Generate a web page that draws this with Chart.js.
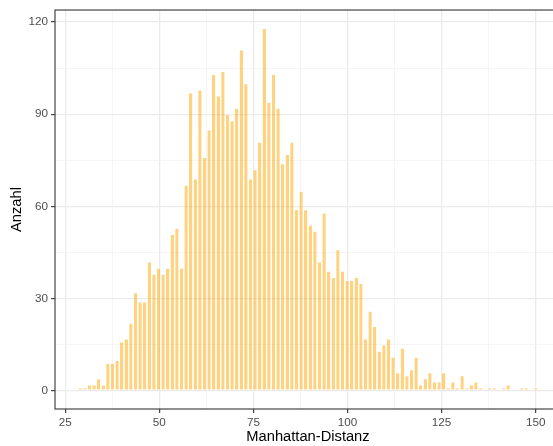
<!DOCTYPE html>
<html>
<head>
<meta charset="utf-8">
<script src="https://cdn.jsdelivr.net/npm/chart.js@4"></script>
<style>
  html, body { margin: 0; padding: 0; background: #fff; overflow: hidden; }
  #wrap { position: relative; width: 561px; height: 446px; }
</style>
</head>
<body>
<div id="wrap"><canvas id="histChart"></canvas></div>
<script>
// Bin centres of the histogram (100 bins from 29 to 150)
const binCentres = [
    29.00, 30.22, 31.44, 32.67, 33.89, 35.11, 36.33, 37.56, 38.78, 40.00,
    41.22, 42.44, 43.67, 44.89, 46.11, 47.33, 48.56, 49.78, 51.00, 52.22,
    53.44, 54.67, 55.89, 57.11, 58.33, 59.56, 60.78, 62.00, 63.22, 64.44,
    65.67, 66.89, 68.11, 69.33, 70.56, 71.78, 73.00, 74.22, 75.44, 76.67,
    77.89, 79.11, 80.33, 81.56, 82.78, 84.00, 85.22, 86.44, 87.67, 88.89,
    90.11, 91.33, 92.56, 93.78, 95.00, 96.22, 97.44, 98.67, 99.89, 101.11,
    102.33, 103.56, 104.78, 106.00, 107.22, 108.44, 109.67, 110.89, 112.11, 113.33,
    114.56, 115.78, 117.00, 118.22, 119.44, 120.67, 121.89, 123.11, 124.33, 125.56,
    126.78, 128.00, 129.22, 130.44, 131.67, 132.89, 134.11, 135.33, 136.56, 137.78,
    139.00, 140.22, 141.44, 142.67, 143.89, 145.11, 146.33, 147.56, 148.78, 150.00
];

// Anzahl pro Bin
const counts = [
    1, 1, 2, 2, 4, 2, 9, 9, 10, 16,
    17, 22, 32, 29, 29, 42, 38, 40, 38, 40,
    51, 53, 40, 67, 97, 69, 98, 76, 85, 103,
    96, 104, 90, 88, 92, 111, 100, 69, 72, 81,
    118, 94, 103, 92, 74, 77, 81, 59, 65, 59,
    54, 52, 42, 58, 39, 37, 46, 39, 36, 36,
    37, 35, 17, 26, 21, 13, 15, 17, 11, 6,
    14, 5, 7, 11, 2, 4, 6, 3, 3, 6,
    1, 3, 1, 5, 1, 2, 3, 1, 0, 1,
    1, 0, 1, 2, 0, 0, 1, 1, 0, 1
];

const xMajor = [25, 50, 75, 100, 125, 150];
const xMinor = [37.5, 62.5, 87.5, 112.5, 137.5];
const yMajor = [0, 30, 60, 90, 120];
const yMinor = [15, 45, 75, 105];

const tickFont = { family: "'Liberation Sans', Arial, sans-serif", size: 11.7 };
const titleFont = { family: "'Liberation Sans', Arial, sans-serif", size: 14.7 };

function gridFor(major) {
    const isMajor = ctx => ctx.tick && major.includes(ctx.tick.value);
    return {
        offset: false,
        color: ctx => isMajor(ctx) ? '#EBEBEB' : '#F1F1F1',
        lineWidth: ctx => isMajor(ctx) ? 1.3 : 0.7,
        tickColor: ctx => isMajor(ctx) ? '#333333' : 'rgba(0,0,0,0)',
        tickLength: 4,
        tickWidth: 1.1,
        drawTicks: true
    };
}

// rahmen um das panel
const panelBorder = {
    id: 'panelBorder',
    afterDraw(chart) {
        const { ctx, chartArea: a } = chart;
        ctx.save();
        ctx.strokeStyle = '#333333';
        ctx.lineWidth = 1.1;
        ctx.strokeRect(a.left, a.top, a.right - a.left, a.bottom - a.top);
        ctx.restore();
    }
};

new Chart(document.getElementById('histChart'), {
    type: 'bar',
    data: {
        datasets: [{
            data: binCentres.map((x, i) => ({ x: x, y: counts[i] })),
            backgroundColor: 'rgba(255, 165, 0, 0.5)',
            borderColor: '#FFFFFF',
            borderWidth: { top: 0.8, bottom: 0.8, left: 0, right: 0 },
            borderSkipped: false,
            barPercentage: 0.74,
            categoryPercentage: 1
        }]
    },
    options: {
        responsive: true,
        maintainAspectRatio: false,
        animation: false,
        layout: { padding: { top: 9.5, right: 0, bottom: 0, left: 0 } },
        plugins: {
            legend: { display: false },
            tooltip: { enabled: false }
        },
        scales: {
            x: {
                type: 'linear',
                offset: false,
                min: 22.28,
                max: 156.72,
                afterBuildTicks: scale => {
                    scale.ticks = xMajor.concat(xMinor).sort((a, b) => a - b).map(v => ({ value: v }));
                },
                afterFit: scale => { scale.height = 37; },
                grid: gridFor(xMajor),
                border: { display: false },
                ticks: {
                    autoSkip: false,
                    maxRotation: 0,
                    padding: 3,
                    color: '#4D4D4D',
                    font: tickFont,
                    callback: v => xMajor.includes(v) ? String(v) : ''
                },
                title: {
                    display: true,
                    text: 'Manhattan-Distanz',
                    color: '#000000',
                    font: titleFont,
                    padding: { top: 0, bottom: 0 }
                }
            },
            y: {
                type: 'linear',
                min: -5.9,
                max: 123.9,
                afterBuildTicks: scale => {
                    scale.ticks = yMajor.concat(yMinor).sort((a, b) => a - b).map(v => ({ value: v }));
                },
                afterFit: scale => { scale.width = 55; },
                grid: gridFor(yMajor),
                border: { display: false },
                ticks: {
                    autoSkip: false,
                    padding: 3,
                    color: '#4D4D4D',
                    font: tickFont,
                    callback: v => yMajor.includes(v) ? String(v) : ''
                },
                title: {
                    display: true,
                    text: 'Anzahl',
                    color: '#000000',
                    font: titleFont,
                    padding: { top: 8.5, bottom: 0 }
                }
            }
        }
    },
    plugins: [panelBorder]
});
</script>
</body>
</html>
